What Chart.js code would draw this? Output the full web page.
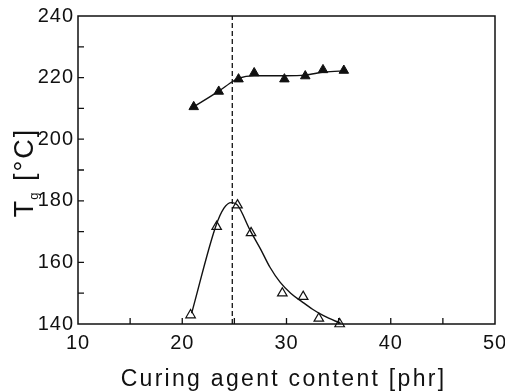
<!DOCTYPE html>
<html>
<head>
<meta charset="utf-8">
<script src="https://cdn.jsdelivr.net/npm/chart.js@4/dist/chart.umd.min.js"></script>
<style>
  html, body { margin: 0; padding: 0; background: #fff; }
  #wrap { width: 505px; height: 391px; }
</style>
</head>
<body>
<div id="wrap"><canvas id="tgChart" width="505" height="391"></canvas></div>
<script>
// Tg vs. curing agent content (phr)
const filledX = [21.1, 23.5, 25.4, 26.9, 29.8, 31.8, 33.5, 35.5];
const filledY = [210.5, 215.5, 219.5, 221.5, 219.5, 220.5, 222.5, 222.3];

const openX = [20.8, 23.3, 25.3, 26.6, 29.6, 31.6, 33.1, 35.1];
const openY = [142.9, 171.6, 178.6, 169.6, 150.0, 148.9, 141.8, 140.0];

// smooth guide curves traced through the two series
const fitFilledX = [21.1, 23.5, 24.9, 25.4, 26.9, 29.9, 31.8, 33.6, 35.8];
const fitFilledY = [210.5, 215.6, 218.9, 219.8, 220.6, 220.6, 220.8, 221.8, 222.2];

const fitOpenX = [20.9, 23.2, 24.0, 24.7, 25.3, 26.5, 27.5, 28.4, 29.4, 30.4, 31.5, 32.5, 33.6, 35.2];
const fitOpenY = [143.5, 171.6, 177.6, 179.4, 178.6, 170.5, 164.4, 158.5, 153.5, 150.0, 147.2, 144.8, 142.6, 140.2];

// dashed marker line position
const markerLineX = 24.8;

const xRange = [10, 50];
const yRange = [140, 240];
const xMajorStep = 10, xMinorStep = 5;
const yMajorStep = 20, yMinorStep = 10;

const xTitle = 'Curing agent content [phr]';
const yTitleMain = 'T';
const yTitleSub = 'g';
const yTitleRest = ' [°C]';

const ink = '#111';
const font = '"Liberation Sans", Arial, Helvetica, sans-serif';

const toPoints = (xs, ys) => xs.map((x, i) => ({ x: x, y: ys[i] }));

const frameAndTicks = {
    id: 'frameAndTicks',
    beforeLayout(chart) { chart.ctx.letterSpacing = '1px'; },
    beforeDraw(chart) {
        const ctx = chart.ctx;
        ctx.letterSpacing = '1px';
        ctx.save();
        ctx.fillStyle = '#fff';
        ctx.fillRect(0, 0, chart.width, chart.height);
        ctx.restore();
    },
    afterDraw(chart) {
        const { ctx, chartArea: a, scales: { x, y } } = chart;
        ctx.save();
        ctx.strokeStyle = ink;
        ctx.lineWidth = 1.5;
        ctx.strokeRect(a.left, a.top, a.right - a.left, a.bottom - a.top);

        // inward ticks on bottom and left axes
        ctx.lineWidth = 1.3;
        ctx.beginPath();
        for (let v = xRange[0] + xMinorStep; v < xRange[1]; v += xMinorStep) {
            const px = x.getPixelForValue(v);
            ctx.moveTo(px, a.bottom);
            ctx.lineTo(px, a.bottom - 6);
        }
        for (let v = yRange[0] + yMinorStep; v < yRange[1]; v += yMinorStep) {
            const py = y.getPixelForValue(v);
            ctx.moveTo(a.left, py);
            ctx.lineTo(a.left + 6, py);
        }
        ctx.stroke();

        // axis titles
        ctx.fillStyle = ink;
        ctx.letterSpacing = '2.3px';
        ctx.font = '23px ' + font;
        ctx.textAlign = 'center';
        ctx.textBaseline = 'alphabetic';
        ctx.fillText(xTitle, (a.left + a.right) / 2 - 3, 386);

        ctx.textAlign = 'left';
        ctx.letterSpacing = '2px';
        ctx.font = '27px ' + font;
        const wT = ctx.measureText(yTitleMain).width;
        const wR = ctx.measureText(yTitleRest).width;
        ctx.font = '13px ' + font;
        const wG = ctx.measureText(yTitleSub).width;
        const total = wT + wG + wR;
        ctx.translate(33, (a.top + a.bottom) / 2 + total / 2 + 2);
        ctx.rotate(-Math.PI / 2);
        ctx.font = '27px ' + font;
        ctx.fillText(yTitleMain, 0, 0);
        ctx.font = '13px ' + font;
        ctx.fillText(yTitleSub, wT - 1, 5);
        ctx.font = '27px ' + font;
        ctx.fillText(yTitleRest, wT + wG - 1, 0);
        ctx.restore();
    }
};

new Chart(document.getElementById('tgChart'), {
    type: 'scatter',
    data: {
        datasets: [
            {
                data: toPoints([markerLineX, markerLineX], yRange),
                showLine: true,
                borderColor: ink,
                borderWidth: 1.3,
                borderDash: [5, 3],
                pointRadius: 0
            },
            {
                data: toPoints(fitFilledX, fitFilledY),
                showLine: true,
                cubicInterpolationMode: 'monotone',
                borderColor: ink,
                borderWidth: 1.4,
                pointRadius: 0
            },
            {
                data: toPoints(fitOpenX, fitOpenY),
                showLine: true,
                cubicInterpolationMode: 'monotone',
                borderColor: ink,
                borderWidth: 1.4,
                pointRadius: 0
            },
            {
                data: toPoints(filledX, filledY),
                pointStyle: 'triangle',
                pointRadius: 5.5,
                backgroundColor: ink,
                borderColor: ink,
                borderWidth: 1,
                clip: false
            },
            {
                data: toPoints(openX, openY),
                pointStyle: 'triangle',
                pointRadius: 5.5,
                backgroundColor: '#fff',
                borderColor: ink,
                borderWidth: 1.2,
                clip: false
            }
        ]
    },
    options: {
        responsive: false,
        animation: false,
        events: [],
        layout: { autoPadding: false, padding: { top: 16, right: 10, left: 0, bottom: 0 } },
        plugins: { legend: { display: false }, tooltip: { enabled: false } },
        scales: {
            x: {
                type: 'linear',
                min: xRange[0],
                max: xRange[1],
                grid: { display: false, drawTicks: false },
                border: { display: false },
                ticks: {
                    stepSize: xMajorStep,
                    autoSkip: false,
                    maxRotation: 0,
                    padding: 7,
                    color: ink,
                    font: { family: font, size: 20 }
                },
                afterFit(scale) {
                    scale.height = 67;
                    scale.paddingLeft = 0;
                    scale.paddingRight = 0;
                }
            },
            y: {
                type: 'linear',
                min: yRange[0],
                max: yRange[1],
                grid: { display: false, drawTicks: false },
                border: { display: false },
                ticks: {
                    stepSize: yMajorStep,
                    autoSkip: false,
                    padding: 4,
                    color: ink,
                    font: { family: font, size: 20 }
                },
                afterFit(scale) {
                    scale.width = 78;
                    scale.paddingTop = 0;
                    scale.paddingBottom = 0;
                }
            }
        }
    },
    plugins: [frameAndTicks]
});
</script>
</body>
</html>
